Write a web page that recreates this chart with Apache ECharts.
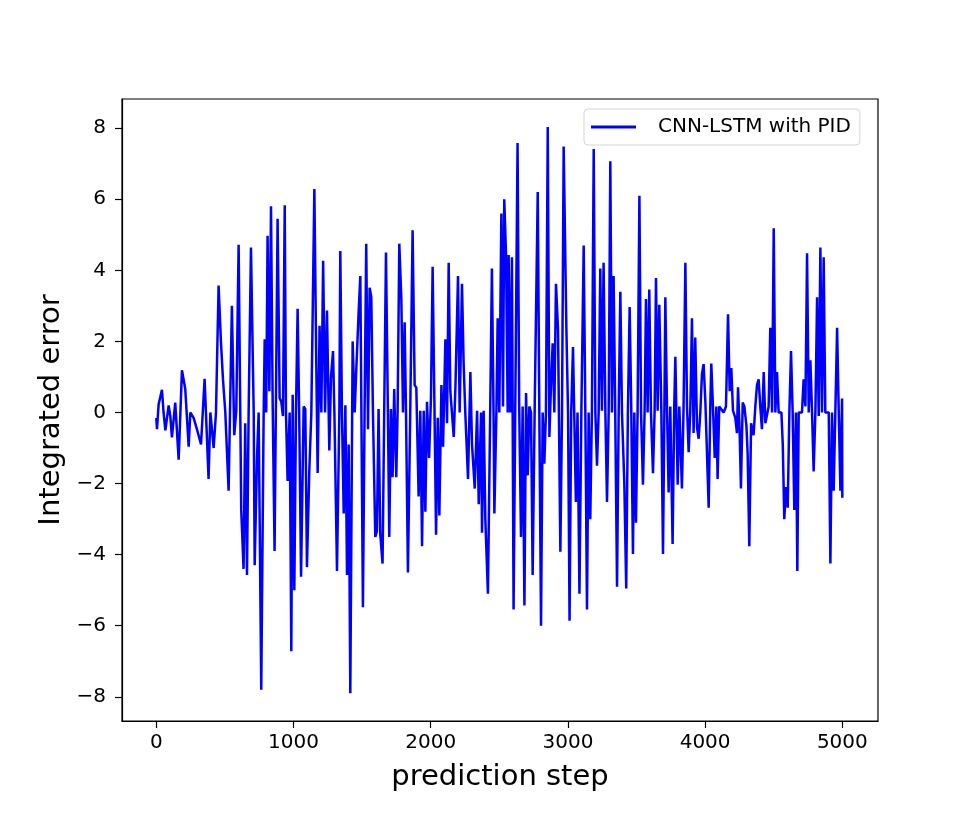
<!DOCTYPE html>
<html>
<head>
<meta charset="utf-8">
<title>Integrated error</title>
<script src="https://cdn.jsdelivr.net/npm/echarts@6/dist/echarts.min.js"></script>
<style>
  html, body { margin: 0; padding: 0; background: #fff; }
  #chart { width: 975px; height: 825px; }
</style>
</head>
<body>
<div id="chart"></div>
<script>
// values (step, integrated error)
var steps = [
  0, 5, 17, 41, 53, 66, 90, 102, 114, 138, 163, 187, 211, 236, 248, 272, 296, 326, 352, 381,
  394, 418, 435, 454, 471, 486, 503, 527, 551, 568, 583, 600, 619, 636, 648, 661, 673, 690, 710, 717,
  734, 746, 765, 782, 790, 801, 811, 824, 836, 848, 862, 872, 884, 899, 911, 923, 936, 945, 957, 972,
  984, 994, 1006, 1018, 1030, 1042, 1055, 1074, 1086, 1098, 1115, 1130, 1152, 1166, 1176, 1190, 1203, 1216, 1230, 1244,
  1261, 1273, 1288, 1298, 1317, 1334, 1341, 1353, 1366, 1378, 1390, 1402, 1414, 1431, 1446, 1458, 1474, 1487, 1506, 1518,
  1530, 1543, 1555, 1567, 1579, 1596, 1608, 1620, 1632, 1649, 1661, 1674, 1688, 1698, 1710, 1722, 1734, 1749, 1759, 1771,
  1786, 1798, 1810, 1820, 1834, 1851, 1868, 1883, 1895, 1912, 1924, 1937, 1949, 1961, 1973, 1988, 2002, 2014, 2027, 2039,
  2051, 2063, 2078, 2090, 2107, 2119, 2131, 2143, 2168, 2180, 2199, 2211, 2228, 2240, 2252, 2272, 2289, 2301, 2321, 2338,
  2350, 2367, 2374, 2386, 2398, 2417, 2434, 2446, 2458, 2464, 2479, 2488, 2500, 2515, 2527, 2536, 2549, 2561, 2568, 2580,
  2592, 2604, 2616, 2633, 2645, 2658, 2670, 2683, 2695, 2707, 2719, 2731, 2743, 2758, 2780, 2792, 2804, 2816, 2828, 2840,
  2853, 2865, 2877, 2889, 2901, 2913, 2928, 2945, 2957, 2969, 2989, 3001, 3012, 3024, 3037, 3046, 3058, 3070, 3084, 3098,
  3115, 3127, 3139, 3151, 3163, 3175, 3188, 3200, 3212, 3224, 3236, 3248, 3260, 3273, 3285, 3297, 3309, 3321, 3333, 3345,
  3358, 3370, 3382, 3394, 3411, 3425, 3437, 3450, 3462, 3474, 3484, 3496, 3508, 3521, 3533, 3547, 3559, 3569, 3581, 3593,
  3605, 3620, 3632, 3642, 3654, 3666, 3681, 3693, 3703, 3710, 3722, 3734, 3746, 3763, 3775, 3783, 3800, 3812, 3831, 3843,
  3856, 3868, 3880, 3892, 3904, 3916, 3928, 3941, 3953, 3965, 3977, 3989, 4002, 4026, 4038, 4045, 4057, 4070, 4082, 4091,
  4103, 4116, 4135, 4152, 4167, 4179, 4191, 4203, 4220, 4232, 4240, 4252, 4261, 4274, 4286, 4301, 4310, 4322, 4335, 4353,
  4366, 4378, 4390, 4402, 4414, 4427, 4439, 4451, 4463, 4475, 4488, 4500, 4512, 4524, 4536, 4556, 4566, 4577, 4590, 4602,
  4614, 4626, 4638, 4650, 4662, 4672, 4682, 4694, 4706, 4718, 4731, 4743, 4755, 4767, 4779, 4791, 4804, 4816, 4828, 4840,
  4852, 4864, 4876, 4889, 4901, 4913, 4925, 4937, 4949, 4962, 4974, 4986, 4998, 5000
];
var errors = [
  -0.15, -0.47, 0.23, 0.64, 0.0, -0.5, 0.2, -0.1, -0.7, 0.28, -1.33, 1.19, 0.66, -0.96, 0.0, -0.15, -0.47, -0.9, 0.95, -1.87,
  0.0, -1.0, 0.0, 3.57, 2.0, 0.93, 0.0, -2.2, 3.0, -0.64, 0.05, 4.72, -2.74, -4.4, -0.3, -4.57, 0.0, 4.64, 0.0, -4.3,
  -1.28, 0.0, -7.8, -0.2, 2.06, 0.0, 4.97, 0.6, 5.8, 0.3, -3.9, 0.3, 5.45, 0.4, 0.3, -0.1, 5.83, 0.0, -1.93, 0.0,
  -6.72, 0.5, -5.0, 0.0, 2.92, -0.2, -4.62, 0.17, 0.1, -4.35, -1.66, 0.0, 6.29, 1.36, -1.7, 2.44, 0.0, 4.27, 0.0, 2.87,
  -1.07, 0.98, 1.73, 0.0, -4.46, 0.0, 4.54, 0.0, -2.84, 0.2, -4.57, -0.9, -7.9, 2.0, 0.0, 1.25, 2.76, 3.84, -5.48, 0.0,
  4.75, -0.47, 3.51, 3.24, 0.0, -3.5, -3.33, 0.1, -3.4, -4.25, 0.0, 4.5, 0.0, -3.5, 0.1, -1.82, 0.66, -1.82, 0.1, 4.75,
  3.19, 0.0, 2.54, 0.0, -4.5, 0.05, 5.13, 0.77, 0.7, -2.36, 0.05, -3.76, 0.05, -2.79, 0.3, -1.28, 0.45, 4.1, 0.25, -3.44,
  -0.15, -2.9, 0.77, -0.96, 2.06, -0.3, 4.21, 0.6, -0.69, 0.7, 3.84, 0.0, 3.62, 1.36, 0.0, -1.87, 1.14, -0.9, -2.14, 0.05,
  -2.58, 0.0, -3.38, 0.05, -3.0, -5.1, 0.17, 4.05, 0.0, -2.84, 0.05, 2.65, 0.0, 5.6, 0.17, 6.0, 4.43, 0.0, 4.43, 0.0,
  4.37, -5.54, 0.0, 7.58, 0.17, -3.5, 0.17, -5.43, 0.55, -1.77, 0.17, 0.0, -4.57, 0.17, 6.2, -0.15, -6.0, 0.0, -1.44, 0.0,
  8.03, -0.69, 0.82, 1.95, 0.0, 3.62, 2.33, -3.92, 0.0, 7.48, 2.33, 0.0, -5.86, 0.0, 1.84, 0.0, -2.52, 0.0, -5.1, 0.0,
  4.7, 0.0, -5.54, 0.0, -3.0, 0.05, 7.41, 0.0, -1.5, 0.0, 4.05, 0.05, 4.21, 0.0, -2.52, 0.0, 7.07, 0.0, 3.84, 0.0,
  -4.9, 0.0, 3.4, 0.0, -1.98, -4.95, 0.0, 2.97, 0.0, -3.98, 0.0, -3.1, 0.05, 6.1, 0.0, -2.03, 0.05, 3.19, 0.0, 3.46,
  0.05, -1.71, 0.05, 3.78, 0.05, 3.03, 0.05, -3.98, 0.0, 3.24, 0.17, -2.25, 0.17, -3.7, 0.17, 1.57, -2.03, 0.17, -2.14, 0.17,
  4.21, 0.17, -1.12, 0.05, 2.65, -0.58, 2.11, -0.42, -0.74, 0.0, 1.09, 1.36, 0.28, -2.68, 0.23, 1.38, 0.17, -1.28, 0.17, -1.87,
  0.17, 0.17, 0.0, 0.17, 2.76, 0.6, 1.25, 0.05, -0.15, -0.58, 0.71, -0.58, -2.14, 0.28, 0.17, -0.37, -1.17, -3.76, -0.3, -0.64,
  0.17, 0.77, 0.93, 0.17, -0.47, 1.14, -0.3, -0.26, 0.17, 2.38, 0.0, 5.18, 0.0, 1.14, 0.0, 0.0, -0.9, -3.0, -2.1, -2.68,
  0.0, 1.73, 0.0, -2.74, 0.0, -4.46, 0.0, 0.05, 0.0, 0.93, 0.17, 4.48, 0.0, 1.47, 0.05, -1.66, 0.05, 3.24, -0.1, 4.64,
  0.0, 4.37, 0.0, 0.05, 0.0, -4.25, 0.0, -2.2, 0.0, 2.38, 0.0, -2.2, 0.39, -2.4
];
var xTicks = [0, 1000, 2000, 3000, 4000, 5000];
var yTicks = [-8, -6, -4, -2, 0, 2, 4, 6, 8];
var seriesName = 'CNN-LSTM with PID';

var font = 'DejaVu Sans';
var chart = echarts.init(document.getElementById('chart'), null, { renderer: 'canvas' });

var points = steps.map(function (s, i) { return [s, errors[i]]; });

var option = {
    animation: false,
    backgroundColor: '#ffffff',
    grid: {
        left: 122,
        right: 97,
        top: 99,
        bottom: 104,
        show: true,
        borderColor: '#000',
        borderWidth: 1.2,
        backgroundColor: 'transparent'
    },
    legend: {
        data: [seriesName],
        left: 584,
        top: 109,
        icon: 'rect',
        itemWidth: 45,
        itemHeight: 3,
        padding: [8, 9, 8, 7],
        backgroundColor: 'rgba(255,255,255,0.8)',
        borderColor: '#d5d5d5',
        borderWidth: 1,
        borderRadius: 4,
        textStyle: {
            fontFamily: font,
            fontSize: 20,
            color: '#000',
            padding: [0, 0, 0, 17]
        }
    },
    xAxis: {
        type: 'value',
        min: -250,
        max: 5260,
        name: 'prediction step',
        nameLocation: 'middle',
        nameGap: 42,
        nameTextStyle: { fontFamily: font, fontSize: 29, color: '#000' },
        axisLine: { show: true, onZero: false, lineStyle: { color: '#000', width: 1.2 } },
        axisTick: { show: true, length: 7, lineStyle: { color: '#000', width: 1.2 }, customValues: xTicks },
        axisLabel: {
            fontFamily: font,
            fontSize: 20,
            color: '#000',
            margin: 12,
            customValues: xTicks,
            formatter: function (v) { return String(v); }
        },
        splitLine: { show: false }
    },
    yAxis: {
        type: 'value',
        min: -8.68,
        max: 8.82,
        name: 'Integrated error',
        nameLocation: 'middle',
        nameGap: 46,
        nameTextStyle: { fontFamily: font, fontSize: 29, color: '#000' },
        axisLine: { show: true, onZero: false, lineStyle: { color: '#000', width: 1.2 } },
        axisTick: { show: true, length: 7, lineStyle: { color: '#000', width: 1.2 }, customValues: yTicks },
        axisLabel: {
            fontFamily: font,
            fontSize: 20,
            color: '#000',
            margin: 16,
            customValues: yTicks,
            formatter: function (v) { return String(v).replace('-', '\u2212'); }
        },
        splitLine: { show: false }
    },
    series: [{
        name: seriesName,
        type: 'line',
        data: points,
        showSymbol: false,
        symbol: 'none',
        lineStyle: { color: '#0000ff', width: 2.5 },
        itemStyle: { color: '#0000ff' },
        z: 3
    }]
};

chart.setOption(option);
</script>
</body>
</html>
